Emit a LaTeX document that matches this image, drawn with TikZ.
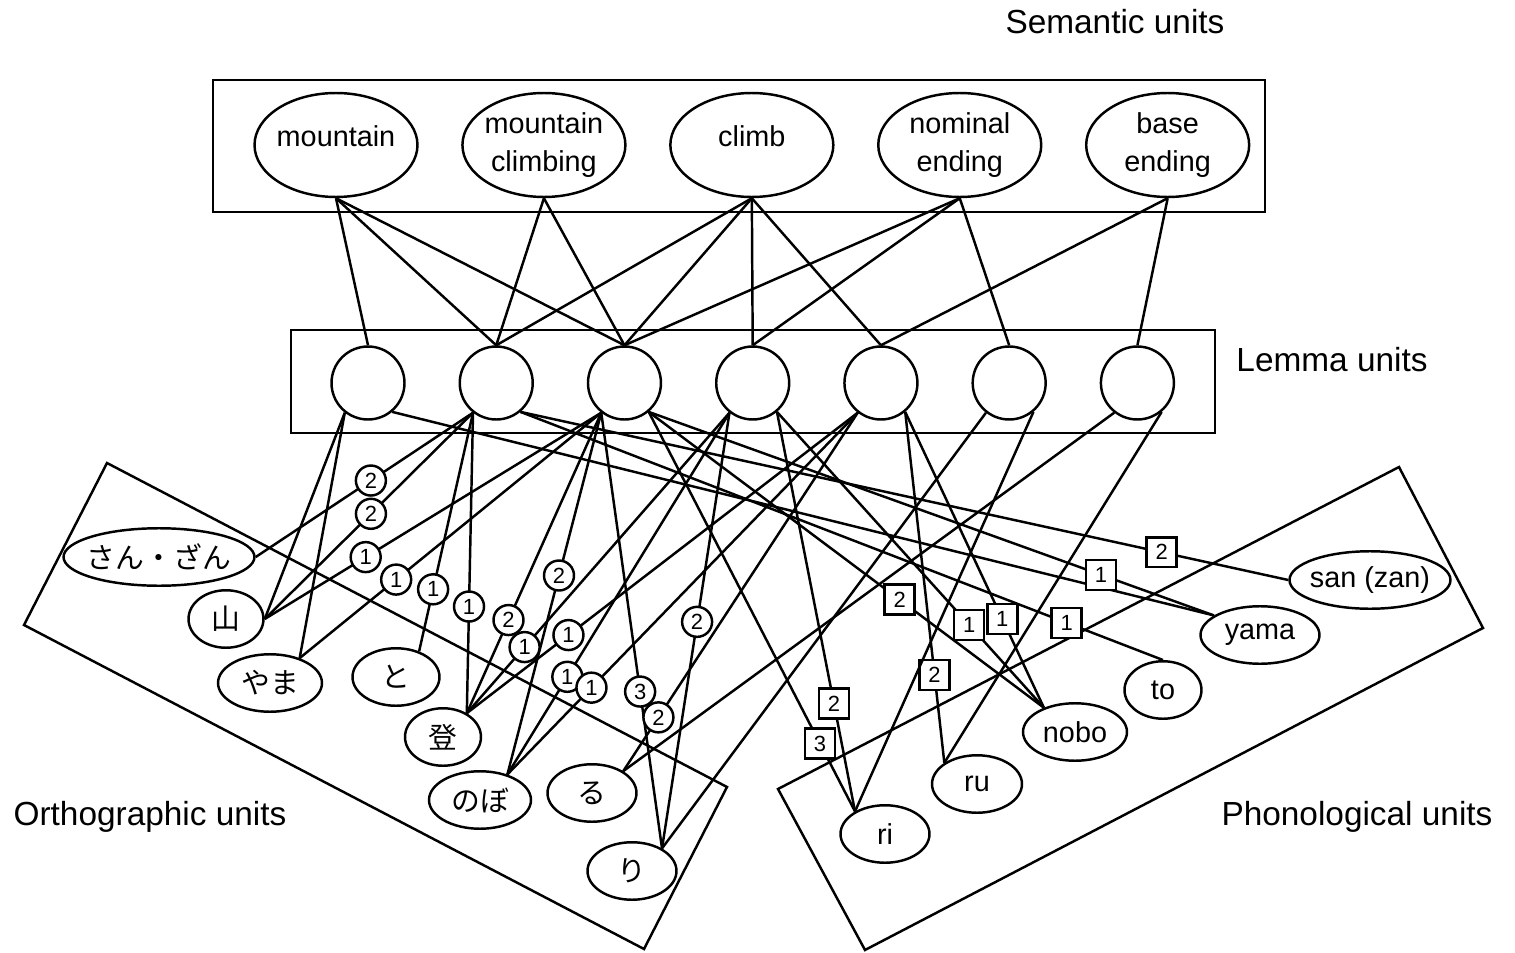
\documentclass[tikz,border=0pt]{standalone}
\usepackage{fontspec}
\setmainfont{Liberation Sans}
\newfontfamily\jpfont{Noto Sans CJK JP}
\usetikzlibrary{shapes.geometric, positioning}
\newcommand{\nowd}[1]{\makebox[0pt]{#1}}

\begin{document}
\begin{tikzpicture}[x=0.02cm, y=-0.02cm, line width=1.4pt,
  title/.style={font=\fontsize{19}{23}\selectfont},
  sem/.style={draw, ellipse, minimum width=3.26cm, minimum height=2.08cm, inner sep=0pt, align=center, font=\fontsize{16.4}{21.6}\selectfont},
  lem/.style={draw, circle, minimum size=1.46cm, inner sep=0pt},
  unit/.style={draw, ellipse, minimum height=1.15cm, inner sep=0pt, font=\fontsize{16.4}{20}\selectfont},
  olab/.style={draw, circle, fill=white, minimum size=0.6cm, inner sep=0pt, font=\fontsize{12.5}{14}\selectfont},
  plab/.style={draw, rectangle, fill=white, minimum size=0.6cm, inner sep=0pt, font=\fontsize{12.5}{14}\selectfont}]

\useasboundingbox (0,0) rectangle (1515,953);

\draw (213,80) rectangle (1265,212);
\draw (291,330) rectangle (1215,433);
\draw (107,463) -- (727,787) -- (644,949) -- (24,625) -- cycle;
\draw (778,789) -- (1399,467) -- (1483,628) -- (865,950) -- cycle;

\node[title] (SEMT) at (1115,22) {Semantic units};
\node[title] (LEMT) at (1332,360) {Lemma units};
\node[title] (ORTT) at (150,817) {Orthographic units};
\node[title] (PHOT) at (1357,817) {Phonological units};

\node[sem] (SEM0) at (336,145) {\raisebox{-0.04cm}[0pt][0pt]{\nowd{mountain}}};
\node[sem, right=0.85cm of SEM0] (SEM1) {\nowd{mountain}\\\nowd{climbing}};
\node[sem, right=0.85cm of SEM1] (SEM2) {\raisebox{-0.04cm}[0pt][0pt]{\nowd{climb}}};
\node[sem, right=0.85cm of SEM2] (SEM3) {\nowd{nominal}\\\nowd{ending}};
\node[sem, right=0.85cm of SEM3] (SEM4) {\nowd{base}\\\nowd{ending}};

\node[lem] (LEM0) at (368,383) {};
\node[lem, right=1.056cm of LEM0] (LEM1) {};
\node[lem, right=1.056cm of LEM1] (LEM2) {};
\node[lem, right=1.056cm of LEM2] (LEM3) {};
\node[lem, right=1.056cm of LEM3] (LEM4) {};
\node[lem, right=1.056cm of LEM4] (LEM5) {};
\node[lem, right=1.056cm of LEM5] (LEM6) {};

\node[unit, minimum width=3.82cm] (ORT0) at (159,557) {\nowd{\jpfont さん・ざん}};
\node[unit, minimum width=1.5cm] (ORT1) at (226,619) {\jpfont 山};
\node[unit, minimum width=2.08cm] (ORT2) at (270,683) {\jpfont やま};
\node[unit, minimum width=1.74cm] (ORT3) at (396,677) {\jpfont と};
\node[unit, minimum width=1.52cm] (ORT4) at (443,737) {\jpfont 登};
\node[unit, minimum width=2.04cm] (ORT5) at (480,800) {\jpfont のぼ};
\node[unit, minimum width=1.78cm] (ORT6) at (592,793) {\jpfont る};
\node[unit, minimum width=1.78cm] (ORT7) at (632,871) {\jpfont り};

\node[unit, minimum width=3.22cm] (PHO0) at (1370,580) {\nowd{san (zan)}};
\node[unit, minimum width=2.38cm] (PHO1) at (1260,635) {yama};
\node[unit, minimum width=1.54cm] (PHO2) at (1163,690) {to};
\node[unit, minimum width=2.08cm] (PHO3) at (1075,732) {nobo};
\node[unit, minimum width=1.8cm] (PHO4) at (977,784) {ru};
\node[unit, minimum width=1.78cm] (PHO5) at (885,834) {ri};

\draw[-] (SEM0.south) -- (LEM0.north);
\draw[-] (SEM0.south) -- (LEM1.north);
\draw[-] (SEM0.south) -- (LEM2.north);
\draw[-] (SEM1.south) -- (LEM1.north);
\draw[-] (SEM1.south) -- (LEM2.north);
\draw[-] (SEM2.south) -- (LEM1.north);
\draw[-] (SEM2.south) -- (LEM2.north);
\draw[-] (SEM2.south) -- (LEM3.north);
\draw[-] (SEM2.south) -- (LEM4.north);
\draw[-] (SEM3.south) -- (LEM2.north);
\draw[-] (SEM3.south) -- (LEM3.north);
\draw[-] (SEM3.south) -- (LEM5.north);
\draw[-] (SEM4.south) -- (LEM4.north);
\draw[-] (SEM4.south) -- (LEM6.north);

\draw[-] (LEM0.232) -- (ORT1.east);
\draw[-] (LEM0.232) -- (ORT2.40);
\draw[-] (LEM1.232) -- node[olab, pos=0.47] {2} (ORT0.east);
\draw[-] (LEM1.232) -- node[olab, pos=0.49] {2} (ORT1.east);
\draw[-] (LEM1.232) -- node[olab, pos=0.74] {1} (ORT3.48);
\draw[-] (LEM1.232) -- node[olab, pos=0.645] {1} (ORT4.45);
\draw[-] (LEM2.232) -- node[olab, pos=0.70] {1} (ORT1.east);
\draw[-] (LEM2.232) -- node[olab, pos=0.68] {1} (ORT2.40);
\draw[-] (LEM2.232) -- node[olab, pos=0.69] {2} (ORT4.45);
\draw[-] (LEM2.232) -- node[olab, pos=0.45] {2} (ORT5.43);
\draw[-] (LEM2.232) -- node[olab, pos=0.64] {3} (ORT7.37);
\draw[-] (LEM3.232) -- node[olab, pos=0.78] {1} (ORT4.45);
\draw[-] (LEM3.232) -- node[olab, pos=0.73] {1} (ORT5.43);
\draw[-] (LEM3.232) -- node[olab, pos=0.48] {2} (ORT7.37);
\draw[-] (LEM4.232) -- node[olab, pos=0.74] {1} (ORT4.45);
\draw[-] (LEM4.232) -- node[olab, pos=0.76] {1} (ORT5.43);
\draw[-] (LEM4.232) -- node[olab, pos=0.85] {2} (ORT6.35);
\draw[-] (LEM5.232) -- (ORT7.37);
\draw[-] (LEM6.232) -- (ORT6.35);

\draw[-] (LEM0.310) -- (PHO1.157);
\draw[-] (LEM1.310) -- node[plab, pos=0.835] {2} (PHO0.west);
\draw[-] (LEM1.310) -- node[plab, pos=0.85] {1} (PHO2.north);
\draw[-] (LEM2.310) -- node[plab, pos=0.80] {1} (PHO1.157);
\draw[-] (LEM2.310) -- node[plab, pos=0.635] {2} (PHO3.142);
\draw[-] (LEM2.310) -- node[plab, pos=0.83] {3} (PHO5.143);
\draw[-] (LEM3.310) -- node[plab, pos=0.72] {1} (PHO3.142);
\draw[-] (LEM3.310) -- node[plab, pos=0.73] {2} (PHO5.143);
\draw[-] (LEM4.310) -- node[plab, pos=0.70] {1} (PHO3.142);
\draw[-] (LEM4.310) -- node[plab, pos=0.75] {2} (PHO4.147);
\draw[-] (LEM5.310) -- (PHO5.143);
\draw[-] (LEM6.310) -- (PHO4.147);

\end{tikzpicture}
\end{document}
